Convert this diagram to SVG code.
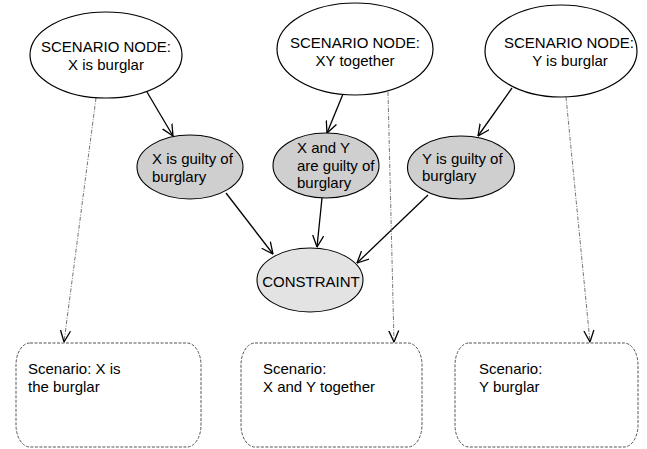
<svg xmlns="http://www.w3.org/2000/svg" width="647" height="449" viewBox="0 0 647 449">
<style>
text{font-family:"Liberation Sans",Arial,sans-serif;font-size:15px;fill:#000}
.scen{fill:#fff;stroke:#000;stroke-width:1.2}
.ev{fill:#cfcfcf;stroke:#000;stroke-width:1.1}
.con{fill:#e3e3e3;stroke:#000;stroke-width:1.1}
.box{fill:#fff;stroke:#555;stroke-width:1;stroke-dasharray:3,1.5}
.arr{stroke:#000;stroke-width:1.3;fill:none;marker-end:url(#ah)}
.dash{stroke:#666;stroke-width:0.9;fill:none;stroke-dasharray:4,1.5,1,1.5;marker-end:url(#ah2)}
</style>
<defs>
<marker id="ah" viewBox="0 0 12 12" refX="11.5" refY="6" markerWidth="12" markerHeight="12" markerUnits="userSpaceOnUse" orient="auto">
<path d="M0,0.5 L11.5,6 L0,11.5" fill="none" stroke="#000" stroke-width="1.3"/>
</marker>
<marker id="ah2" viewBox="0 0 12 12" refX="11.5" refY="6" markerWidth="12" markerHeight="12" markerUnits="userSpaceOnUse" orient="auto">
<path d="M0,1 L11.5,6 L0,11" fill="none" stroke="#000" stroke-width="1.3"/>
</marker>
</defs>
<g id="connectors">
<line class="arr" x1="147" y1="92" x2="173" y2="136"/>
<line class="arr" x1="343" y1="94" x2="327" y2="133"/>
<line class="arr" x1="512" y1="88" x2="478" y2="136"/>
<line class="arr" x1="226" y1="193" x2="273" y2="254"/>
<line class="arr" x1="322" y1="198" x2="317" y2="247"/>
<line class="arr" x1="428" y1="195" x2="357" y2="263"/>
<line class="dash" x1="96" y1="98" x2="64" y2="342"/>
<line class="dash" x1="388" y1="92" x2="394" y2="342"/>
<line class="dash" x1="566" y1="97" x2="590" y2="342"/>
</g>
<g id="scenario-x">
<ellipse class="scen" cx="106" cy="55" rx="76" ry="43"/>
<text x="106" y="52" text-anchor="middle">SCENARIO NODE:</text>
<text x="106" y="70" text-anchor="middle">X is burglar</text>
</g>
<g id="scenario-xy">
<ellipse class="scen" cx="355" cy="49" rx="78" ry="46"/>
<text x="355" y="48" text-anchor="middle">SCENARIO NODE:</text>
<text x="355" y="66" text-anchor="middle">XY together</text>
</g>
<g id="scenario-y">
<ellipse class="scen" cx="561" cy="51" rx="76" ry="46"/>
<text x="569" y="48" text-anchor="middle">SCENARIO NODE:</text>
<text x="570" y="66" text-anchor="middle">Y is burglar</text>
</g>
<g id="x-guilty">
<ellipse class="ev" cx="190" cy="167" rx="53" ry="32"/>
<text x="152" y="164">X is guilty of</text>
<text x="152" y="182">burglary</text>
</g>
<g id="xy-guilty">
<ellipse class="ev" cx="326" cy="165.5" rx="53" ry="32.5"/>
<text x="297" y="153">X and Y</text>
<text x="297" y="171">are guilty of</text>
<text x="297" y="188">burglary</text>
</g>
<g id="y-guilty">
<ellipse class="ev" cx="461" cy="167.5" rx="53.5" ry="31.5"/>
<text x="422" y="164">Y is guilty of</text>
<text x="422" y="181">burglary</text>
</g>
<g id="constraint">
<ellipse class="con" cx="310" cy="280" rx="53" ry="32"/>
<text x="311" y="287" text-anchor="middle">CONSTRAINT</text>
</g>
<g id="box-x">
<rect class="box" x="16" y="343" width="185" height="104" rx="14" ry="22"/>
<text x="28" y="374">Scenario: X is</text>
<text x="28" y="392">the burglar</text>
</g>
<g id="box-xy">
<rect class="box" x="241" y="343" width="181" height="104" rx="14" ry="22"/>
<text x="263" y="374">Scenario:</text>
<text x="263" y="392">X and Y together</text>
</g>
<g id="box-y">
<rect class="box" x="455" y="343" width="183" height="104" rx="14" ry="22"/>
<text x="479" y="374">Scenario:</text>
<text x="479" y="392">Y burglar</text>
</g>
</svg>
